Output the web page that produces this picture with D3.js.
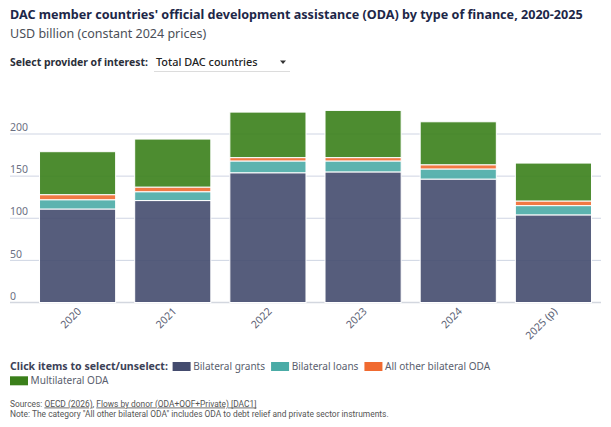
<!DOCTYPE html>
<html>
<head>
<meta charset="utf-8">
<script src="https://cdn.jsdelivr.net/npm/d3@7"></script>
<style>
  html, body { margin: 0; padding: 0; background: #fff; }
  svg { display: block; font-family: "Noto Sans", sans-serif; }
</style>
</head>
<body>
<svg id="chart" width="611" height="427"></svg>
<script>
const years = ["2020", "2021", "2022", "2023", "2024", "2025 (p)"];
const seriesNames = ["Bilateral grants", "Bilateral loans", "All other bilateral ODA", "Multilateral ODA"];
const seriesColors = ["#444b6e", "#4aaba6", "#f06a30", "#3a7f1a"];
const bilateralGrants = [111, 121, 154, 155, 146.5, 104];
const bilateralLoans = [11, 10.5, 14, 13, 12, 11];
const allOtherBilateral = [6, 5.5, 4, 4, 5, 5.5];
const multilateralODA = [51, 57, 54, 56, 51, 45];
const yTicks = [0, 50, 100, 150, 200];

const seriesValues = [bilateralGrants, bilateralLoans, allOtherBilateral, multilateralODA];
const rows = years.map((yr, i) => {
  const r = { year: yr };
  seriesNames.forEach((s, k) => r[s] = seriesValues[k][i]);
  return r;
});
const stacked = d3.stack().keys(seriesNames)(rows);

const svg = d3.select("#chart");

const x = d3.scaleBand().domain(years).range([30, 601]).paddingInner(0.2).paddingOuter(0.1);
const y = d3.scaleLinear().domain([0, 200]).range([302.5, 134]);

// Title block
svg.append("text").attr("x", 10).attr("y", 18.5)
  .attr("font-size", 12.6).attr("font-weight", 700).attr("fill", "#1d2748")
  .text("DAC member countries' official development assistance (ODA) by type of finance, 2020-2025");
svg.append("text").attr("x", 10).attr("y", 38)
  .attr("font-size", 12.5).attr("fill", "#4b4f58")
  .text("USD billion (constant 2024 prices)");

svg.append("text").attr("x", 10).attr("y", 65.5)
  .attr("font-size", 10.45).attr("font-weight", 700).attr("fill", "#2b2f3a")
  .text("Select provider of interest:");
svg.append("text").attr("x", 156).attr("y", 65.5)
  .attr("font-size", 10.9).attr("font-weight", 500).attr("fill", "#222")
  .text("Total DAC countries");
svg.append("path").attr("d", "M280,60.5 L286,60.5 L283,64 Z").attr("fill", "#333");
svg.append("line").attr("x1", 154).attr("x2", 290).attr("y1", 71.5).attr("y2", 71.5)
  .attr("stroke", "#dcdcdc").attr("stroke-width", 1);

// Gridlines + y tick labels
const gy = svg.append("g");
gy.selectAll("line").data(yTicks).join("line")
  .attr("x1", 10).attr("x2", 601)
  .attr("y1", d => y(d)).attr("y2", d => y(d))
  .attr("stroke", d => d === 0 ? "#d3d7df" : "#cfd5e3")
  .attr("stroke-width", d => d === 0 ? 1.5 : 1);
gy.selectAll("text").data(yTicks).join("text")
  .attr("x", 10).attr("y", d => y(d) - 2.8)
  .attr("font-size", 10.5).attr("fill", "#6b7083")
  .text(d => d);

// Bars
const gBars = svg.append("g");
stacked.forEach((layer, k) => {
  gBars.append("g")
    .attr("fill", seriesColors[k]).attr("fill-opacity", 0.9)
    .attr("stroke", "#fff").attr("stroke-width", 1)
    .selectAll("rect").data(layer).join("rect")
    .attr("x", d => x(d.data.year))
    .attr("width", x.bandwidth())
    .attr("y", d => y(d[1]))
    .attr("height", d => y(d[0]) - y(d[1]));
});

// X labels
svg.append("g").selectAll("text").data(years).join("text")
  .attr("transform", d => `translate(${x(d) + x.bandwidth() / 2 + 4.5},${312}) rotate(-45)`)
  .attr("text-anchor", "end")
  .attr("font-size", 10.5).attr("fill", "#5d6376")
  .text(d => d);

// Legend
const legend = svg.append("g");
const lt = legend.append("text").attr("x", 10).attr("y", 370)
  .attr("font-size", 10.6).attr("font-weight", 700).attr("fill", "#3c4257")
  .text("Click items to select/unselect:");
let lx = 10 + lt.node().getComputedTextLength() + 4.7;
let ly = 370;
const legendMaxX = 520;
seriesNames.forEach((s, k) => {
  const g = legend.append("g");
  const t = g.append("text").attr("font-size", 10.05).attr("fill", "#595e6e").text(s);
  const w = 18 + 2.6 + t.node().getComputedTextLength();
  if (lx + w > legendMaxX) { lx = 10; ly += 14.3; }
  g.append("rect").attr("x", lx).attr("y", ly - 8).attr("width", 18).attr("height", 9)
    .attr("fill", seriesColors[k]);
  t.attr("x", lx + 20.6).attr("y", ly);
  lx += w + 6;
});

// Sources / note
const src = svg.append("text").attr("x", 10).attr("y", 406.5)
  .attr("font-family", "Roboto, sans-serif").attr("font-size", 8.38).attr("fill", "#555");
src.append("tspan").text("Sources: ");
src.append("tspan").attr("text-decoration", "underline").text("OECD (2026)");
src.append("tspan").text(", ");
src.append("tspan").attr("text-decoration", "underline").text("Flows by donor (ODA+OOF+Private) [DAC1]");
svg.append("text").attr("x", 10).attr("y", 416.5)
  .attr("font-family", "Roboto, sans-serif").attr("font-size", 8.42).attr("fill", "#555")
  .text("Note: The category \"All other bilateral ODA\" includes ODA to debt relief and private sector instruments.");
</script>
</body>
</html>
